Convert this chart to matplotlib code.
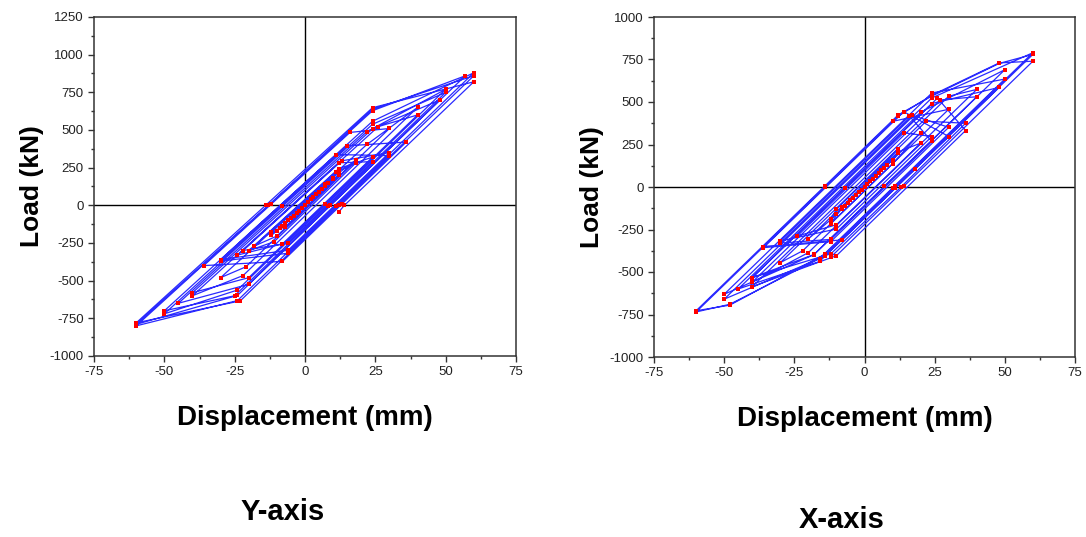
import matplotlib.pyplot as plt
from matplotlib.ticker import MultipleLocator, AutoMinorLocator

plt.rcParams['font.family'] = ['Liberation Sans', 'DejaVu Sans']
plt.rcParams['axes.unicode_minus'] = False

# Y-axis test: displacement (mm) and load (kN), one loop per row
disp_y = [0, 1, -1, 2, -2, 3, -3, 4, -4, 5, -5, 6, -6, 7, -7, 8, -8, 10, -10,
          12, -9, -12, 10,
          12, -7, -12, 7,
          18, -10, -18, 11,
          18, -11, -20, 12,
          24, -8, -24, 12,
          24, -6, -22, 13,
          30, -6, -30, 11,
          30, -6, -30, 15,
          36, 13, -8, -36, -12, 16,
          30, -21, -30, 22,
          40, -22, -40, 26,
          40, 7, -20, -40, 24,
          48, -20, -45, 22,
          50, -24, -50, -8, 24,
          50, 8, -25, -50, 24,
          60, 11, -24, -60, -13, 24,
          57, 9, -24, -60, -13, 24,
          60, 12, -23, -60, -14, 24,
          60, 14, 12]
load_y = [0, 20, -15, 40, -35, 55, -50, 75, -70, 90, -85, 110, -100, 125, -120, 150, -140, 180, -170,
          230, -148, -200, 174,
          200, -142, -180, 143,
          300, -204, -270, 223,
          280, -242, -300, 244,
          320, -256, -330, 282,
          290, -250, -300, 295,
          350, -298, -360, 337,
          330, -318, -370, 395,
          420, 6, -372, -400, 8, 484,
          510, -408, -480, 404,
          650, -466, -600, 522,
          600, 6, -480, -580, 508,
          700, -524, -650, 489,
          770, -562, -720, -6, 538,
          750, -6, -600, -700, 558,
          880, -2, -632, -800, -1, 628,
          860, 0, -598, -790, 0, 638,
          860, 0, -634, -780, 0, 648,
          820, 0, -44]

# X-axis test
disp_x = [0, 1, -1, 2, -2, 3, -3, 4, -4, 5, -5, 6, -6, 7, -7, 8, -8, 10, -10,
          12, -10, -12, 10,
          12, -8, -12, 10,
          20, -12, -20, 12,
          20, -10, -24, 14,
          24, -10, -30, 16,
          24, -12, -30, 17,
          30, -12, -36, 14,
          30, 18, -8, -36, 10,
          30, -22, -30, 22,
          36, 13, -12, -40, 26,
          36, -10, -40, 30,
          40, -20, -40, 27,
          40, 7, -18, -40, -7, 24,
          48, -16, -45, 20,
          50, -18, -50, 24,
          50, 10, -16, -50, 24,
          60, 11, -14, -48, -60, -14, 12, 24, 48,
          60, 11, -14, -48, -60, -14, 12, 24, 48,
          60, 14, -12]
load_x = [0, 18, -15, 35, -32, 50, -48, 65, -62, 80, -78, 98, -95, 112, -110, 130, -128, 160, -158,
          222, -130, -191, 161,
          200, -120, -215, 137,
          320, -192, -305, 207,
          258, -222, -289, 319,
          297, -247, -318, 418,
          268, -308, -330, 422,
          351, -321, -357, 443,
          297, 105, -311, -350, 386,
          457, -375, -445, 387,
          375, 0, -393, -533, 523,
          332, -404, -586, 534,
          574, -386, -560, 512,
          531, 3, -397, -533, -5, 491,
          586, -438, -600, 440,
          690, -398, -631, 553,
          635, -5, -421, -660, 524,
          790, 6, -394, -695, -728, 8, 424, 535, 727,
          780, -4, -404, -690, -735, -1, 417, 540, 730,
          740, 4, -412]

fig = plt.figure(figsize=(10.86, 5.37), dpi=100)
ax1 = fig.add_axes([94 / 1086, 1 - 356 / 537, 422 / 1086, 339 / 537])
ax2 = fig.add_axes([654 / 1086, 1 - 357 / 537, 421 / 1086, 340 / 537])


def draw_loops(ax, d, p, ylim):
    ax.plot(d, p, color="#2a2aff", lw=0.9, zorder=3)
    ax.plot(d, p, ls="none", marker="s", ms=3, color="red", mec="red", mew=0, zorder=4)
    ax.axhline(0, color="black", lw=1, zorder=2)
    ax.axvline(0, color="black", lw=1, zorder=2)
    ax.set_xlim(-75, 75)
    ax.set_ylim(*ylim)
    ax.xaxis.set_major_locator(MultipleLocator(25))
    ax.yaxis.set_major_locator(MultipleLocator(250))
    ax.xaxis.set_minor_locator(AutoMinorLocator(2))
    ax.yaxis.set_minor_locator(AutoMinorLocator(2))
    ax.tick_params(which="both", direction="out", top=False, right=False,
                   colors="#333333", width=1, labelsize=9.5, labelcolor="#222222")
    ax.tick_params(which="major", length=4)
    ax.tick_params(which="minor", length=2.5)
    for s in ax.spines.values():
        s.set_color("#333333")
        s.set_linewidth(1.1)
    ax.set_xlabel("Displacement (mm)", fontsize=20, fontweight="bold", va="center")
    ax.set_ylabel("Load (kN)", fontsize=19, fontweight="bold", va="center")
    ax.xaxis.set_label_coords(0.5, -0.183)
    ax.yaxis.set_label_coords(-0.147, 0.5)


draw_loops(ax1, disp_y, load_y, (-1000, 1250))
draw_loops(ax2, disp_x, load_x, (-1000, 1000))

fig.text(283 / 1086, 1 - 512 / 537, "Y-axis", fontsize=21, fontweight="bold", ha="center", va="center")
fig.text(842 / 1086, 1 - 520 / 537, "X-axis", fontsize=21, fontweight="bold", ha="center", va="center")

fig.savefig("out.png", dpi=100)
